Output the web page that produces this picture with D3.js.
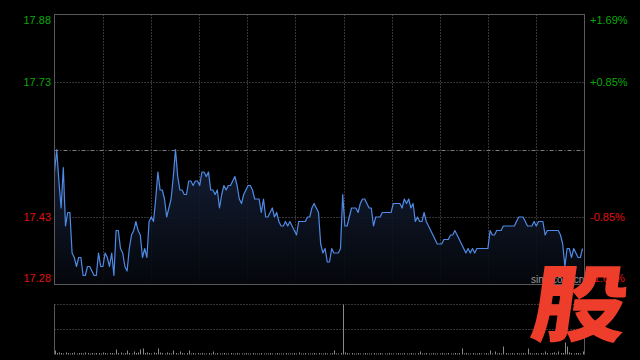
<!DOCTYPE html>
<html>
<head>
<meta charset="utf-8">
<script src="https://cdn.jsdelivr.net/npm/d3@7"></script>
<style>
  html, body { margin: 0; padding: 0; background: #000; }
  svg { display: block; }
</style>
</head>
<body>
<div id="chart"></div>
<script>
// ---- data ----
const prevClose = 17.58;
const priceTicks = [17.88, 17.73, 17.43, 17.28];
const priceTickLabels = ["17.88", "17.73", "17.43", "17.28"];
const pctTickLabels = ["+1.69%", "+0.85%", "-0.85%", "-1.69%"];

const prices = [
  17.53,17.58,17.51,17.45,17.54,17.41,17.44,17.44,17.35,17.34,
  17.32,17.34,17.34,17.30,17.30,17.32,17.32,17.31,17.30,17.30,
  17.35,17.32,17.32,17.35,17.34,17.32,17.35,17.30,17.40,17.40,
  17.36,17.35,17.32,17.31,17.36,17.39,17.40,17.42,17.40,17.39,
  17.34,17.36,17.34,17.42,17.43,17.42,17.47,17.53,17.49,17.49,
  17.47,17.43,17.45,17.47,17.52,17.58,17.52,17.49,17.49,17.48,
  17.48,17.51,17.51,17.50,17.51,17.51,17.50,17.53,17.53,17.52,
  17.53,17.49,17.49,17.48,17.49,17.45,17.48,17.50,17.49,17.50,
  17.50,17.51,17.52,17.50,17.47,17.46,17.48,17.49,17.50,17.50,
  17.49,17.47,17.47,17.47,17.44,17.47,17.43,17.43,17.44,17.45,
  17.43,17.44,17.42,17.41,17.41,17.42,17.41,17.42,17.41,17.40,
  17.39,17.42,17.42,17.42,17.42,17.43,17.43,17.45,17.46,17.45,
  17.44,17.37,17.35,17.36,17.33,17.33,17.36,17.35,17.35,17.35,
  17.36,17.48,17.41,17.41,17.43,17.45,17.45,17.45,17.44,17.46,
  17.47,17.47,17.46,17.45,17.45,17.41,17.43,17.43,17.43,17.44,
  17.44,17.44,17.44,17.44,17.46,17.46,17.46,17.46,17.45,17.47,
  17.46,17.47,17.45,17.46,17.42,17.43,17.42,17.42,17.44,17.42,
  17.41,17.40,17.39,17.38,17.37,17.37,17.37,17.38,17.38,17.38,
  17.39,17.39,17.40,17.39,17.38,17.37,17.36,17.35,17.36,17.35,
  17.36,17.35,17.36,17.36,17.36,17.36,17.36,17.36,17.40,17.39,
  17.39,17.40,17.40,17.40,17.41,17.41,17.41,17.41,17.41,17.41,
  17.42,17.43,17.43,17.43,17.42,17.41,17.41,17.41,17.42,17.41,
  17.42,17.42,17.42,17.39,17.40,17.40,17.40,17.40,17.40,17.40,
  17.39,17.37,17.32,17.36,17.36,17.34,17.36,17.35,17.34,17.34,
  17.36
];

const volumes = [
  8,3,4,3,2,4,3,2,3,4,2,3,3,2,4,3,2,3,2,3,
  3,2,4,3,2,3,3,2,10,3,4,2,3,8,3,2,6,3,4,10,
  12,3,4,3,2,4,3,12,4,3,2,4,3,2,8,3,2,6,3,2,
  3,8,2,3,2,3,2,3,2,2,3,2,6,2,3,2,2,3,2,2,
  3,2,2,3,2,2,2,3,2,2,3,2,2,2,3,2,2,2,3,2,
  2,3,2,2,2,3,2,2,2,3,2,4,2,2,3,2,2,2,3,2,
  3,2,2,3,2,2,3,8,2,2,3,100,4,3,2,3,2,2,3,2,
  2,3,2,2,2,3,2,2,3,2,2,2,3,2,2,2,3,2,2,3,
  2,2,3,2,2,3,6,2,2,3,2,2,3,2,2,2,3,2,2,3,
  2,2,3,2,3,12,2,3,2,2,3,2,2,3,2,2,3,2,8,2,
  6,2,3,2,16,3,2,2,3,2,3,2,2,3,2,12,3,2,2,3,
  2,3,2,6,3,2,3,4,2,6,3,3,24,16,4,3,2,3,3,2,
  6
];

// ---- layout ----
const W = 640, H = 360;
const plot = { left: 54.5, right: 584.5, top: 14.5, bottom: 284.5 };
const vol = { top: 304.5, mid: 329.5, bottom: 354.5 };
const nGridCols = 11;

const svg = d3.select("#chart").append("svg")
  .attr("width", W).attr("height", H)
  .style("background", "#000");

const x = d3.scaleLinear().domain([0, 240]).range([plot.left, 582.5]);
const y = d3.scaleLinear().domain([17.28, 17.88]).range([plot.bottom, plot.top]);
const yv = d3.scaleLinear().domain([0, 100]).range([vol.bottom, vol.top]);

const gridColor = "#6a6a6a";
const borderColor = "#5a5a5a";

const defs = svg.append("defs");
const grad = defs.append("linearGradient").attr("id", "areaGrad")
  .attr("x1", 0).attr("y1", 0).attr("x2", 0).attr("y2", 1);
grad.append("stop").attr("offset", "0%").attr("stop-color", "#16223c").attr("stop-opacity", 0.9);
grad.append("stop").attr("offset", "100%").attr("stop-color", "#05070c").attr("stop-opacity", 0.9);

// vertical grid lines (main)
const colXs = d3.range(1, nGridCols).map(k => plot.left + k * (plot.right - plot.left) / nGridCols);
svg.append("g").selectAll("line").data(colXs).join("line")
  .attr("x1", d => Math.round(d) + 0.5).attr("x2", d => Math.round(d) + 0.5)
  .attr("y1", plot.top).attr("y2", plot.bottom)
  .attr("stroke", gridColor).attr("stroke-width", 1).attr("stroke-dasharray", "1,2");

// horizontal grid lines
svg.append("g").selectAll("line").data([17.73, 17.43]).join("line")
  .attr("x1", plot.left).attr("x2", plot.right)
  .attr("y1", d => Math.round(y(d)) + 0.5).attr("y2", d => Math.round(y(d)) + 0.5)
  .attr("stroke", gridColor).attr("stroke-dasharray", "1,2");

// area under line
const area = d3.area().x((d, i) => x(i)).y0(plot.bottom).y1(d => y(d));
svg.append("path").datum(prices).attr("d", area).attr("fill", "url(#areaGrad)");

// previous close line
svg.append("line")
  .attr("x1", plot.left).attr("x2", plot.right)
  .attr("y1", Math.round(y(prevClose)) + 0.5).attr("y2", Math.round(y(prevClose)) + 0.5)
  .attr("stroke", "#7a7a7a").attr("stroke-dasharray", "4,2,1,2");

// price line
const line = d3.line().x((d, i) => x(i)).y(d => y(d));
svg.append("path").datum(prices).attr("d", line)
  .attr("fill", "none").attr("stroke", "#4f8ae6").attr("stroke-width", 1.2)
  .attr("stroke-linejoin", "round");

// main border
svg.append("rect")
  .attr("x", plot.left).attr("y", plot.top)
  .attr("width", plot.right - plot.left).attr("height", plot.bottom - plot.top)
  .attr("fill", "none").attr("stroke", borderColor);

// labels
const labelFont = "'Liberation Sans', Arial, sans-serif";
function labelY(d, i) {
  let yy = y(d);
  if (i === 0) yy += 6;
  if (i === priceTicks.length - 1) yy -= 6;
  return yy;
}
svg.append("g").selectAll("text").data(priceTicks).join("text")
  .attr("x", 51).attr("y", labelY).attr("dy", "0.36em")
  .attr("text-anchor", "end")
  .attr("font-family", labelFont).attr("font-size", 11)
  .attr("fill", d => d > prevClose ? "#0aa80a" : "#e01010")
  .text((d, i) => priceTickLabels[i]);

svg.append("g").selectAll("text").data(priceTicks).join("text")
  .attr("x", 590).attr("y", labelY).attr("dy", "0.36em")
  .attr("text-anchor", "start")
  .attr("font-family", labelFont).attr("font-size", 11)
  .attr("fill", d => d > prevClose ? "#0aa80a" : "#e01010")
  .text((d, i) => pctTickLabels[i]);

// volume panel
svg.append("g").selectAll("line").data([vol.top, vol.mid]).join("line")
  .attr("x1", plot.left).attr("x2", plot.right)
  .attr("y1", d => d).attr("y2", d => d)
  .attr("stroke", gridColor).attr("stroke-dasharray", "1,2");
svg.append("line").attr("x1", plot.left).attr("x2", plot.left)
  .attr("y1", vol.top).attr("y2", vol.bottom).attr("stroke", borderColor);
svg.append("line").attr("x1", plot.right).attr("x2", plot.right)
  .attr("y1", vol.top).attr("y2", vol.bottom).attr("stroke", borderColor);

svg.append("g").selectAll("line").data(volumes).join("line")
  .attr("x1", (d, i) => Math.round(x(i)) + 0.5).attr("x2", (d, i) => Math.round(x(i)) + 0.5)
  .attr("y1", vol.bottom).attr("y2", d => yv(d))
  .attr("stroke", "#8a8a8a").attr("stroke-width", 1);

// watermark
svg.append("text")
  .attr("x", 531).attr("y", 283)
  .attr("font-family", labelFont).attr("font-size", 10)
  .attr("fill", "#9a9a9a")
  .text("sina.com.cn");

const logo = svg.append("g")
  .attr("transform", "translate(576,335) skewX(-8) scale(1.14,1)");
logo.append("text")
  .attr("x", 0).attr("y", 0)
  .attr("text-anchor", "middle")
  .attr("font-family", "'Noto Sans CJK SC', sans-serif")
  .attr("font-weight", 900)
  .attr("font-size", 84)
  .attr("fill", "#ee3e2b")
  .text("股");
</script>
</body>
</html>
